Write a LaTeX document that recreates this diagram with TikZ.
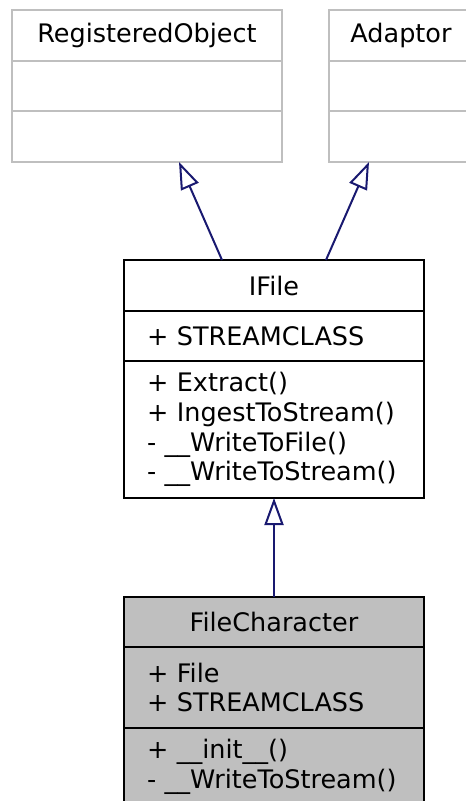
\documentclass[tikz,border=0pt]{standalone}
\usepackage{fontspec}
\setmainfont{DejaVu Sans}
\usetikzlibrary{positioning,arrows.meta,calc}
\definecolor{edge}{HTML}{191970}
\definecolor{greyline}{HTML}{BFBFBF}
\definecolor{greyfill}{HTML}{BFBFBF}
\newcommand{\umlfont}{\fontsize{25.5}{29.7}\selectfont}
\tikzset{
  box/.style  ={draw=black, line width=2pt, fill=white, inner xsep=0pt, inner ysep=0pt, outer sep=0pt, font=\umlfont},
  boxg/.style ={box, draw=greyline},
  boxf/.style ={box, fill=greyfill},
  ttl/.style  ={align=center},
  sec/.style  ={align=left, inner xsep=23pt},
  inh/.style  ={draw=edge, line width=2pt, -{Triangle[open,length=27pt,width=19pt]}},
}
\begin{document}
\begin{tikzpicture}[x=1pt,y=1pt]
  \useasboundingbox (0,0) rectangle (466,-801);
  % base classes
  \node[boxg,ttl,text width=270pt,minimum height=51pt,anchor=north west] (roh) at (12,-10) {RegisteredObject};
  \node[boxg,ttl,text width=270pt,minimum height=50pt,below=0pt of roh] (roa) {};
  \node[boxg,ttl,text width=270pt,minimum height=51pt,below=0pt of roa] (roo) {};

  \node[boxg,ttl,text width=144pt,minimum height=51pt,anchor=north west] (adh) at (329,-10) {Adaptor};
  \node[boxg,ttl,text width=144pt,minimum height=50pt,below=0pt of adh] (ada) {};
  \node[boxg,ttl,text width=144pt,minimum height=51pt,below=0pt of ada] (ado) {};

  % IFile
  \node[box,ttl,text width=300pt,minimum height=51pt,anchor=north west] (ifh) at (124,-260) {IFile};
  \node[box,sec,text width=254pt,minimum height=50pt,below=0pt of ifh] (ifa) {+ STREAMCLASS};
  \node[box,sec,text width=254pt,minimum height=137pt,below=0pt of ifa] (ifo)
    {+ Extract()\\+ IngestToStream()\\- \_\_WriteToFile()\\- \_\_WriteToStream()};

  % FileCharacter
  \node[boxf,ttl,text width=300pt,minimum height=50pt,anchor=north west] (fch) at (124,-597) {FileCharacter};
  \node[boxf,sec,text width=254pt,minimum height=81pt,below=0pt of fch] (fca) {+ File\\+ STREAMCLASS};
  \node[boxf,sec,text width=254pt,minimum height=77pt,below=0pt of fca] (fco)
    {+ \_\_init\_\_()\\- \_\_WriteToStream()};

  \draw[inh] ($(ifh.north)+(-52,0)$) -- ($(roo.south)+(32,0)$);
  \draw[inh] ($(ifh.north)+(52,0)$) -- ($(ado.south)+(-32,0)$);
  \draw[inh] (fch.north) -- (ifo.south);
\end{tikzpicture}
\end{document}
